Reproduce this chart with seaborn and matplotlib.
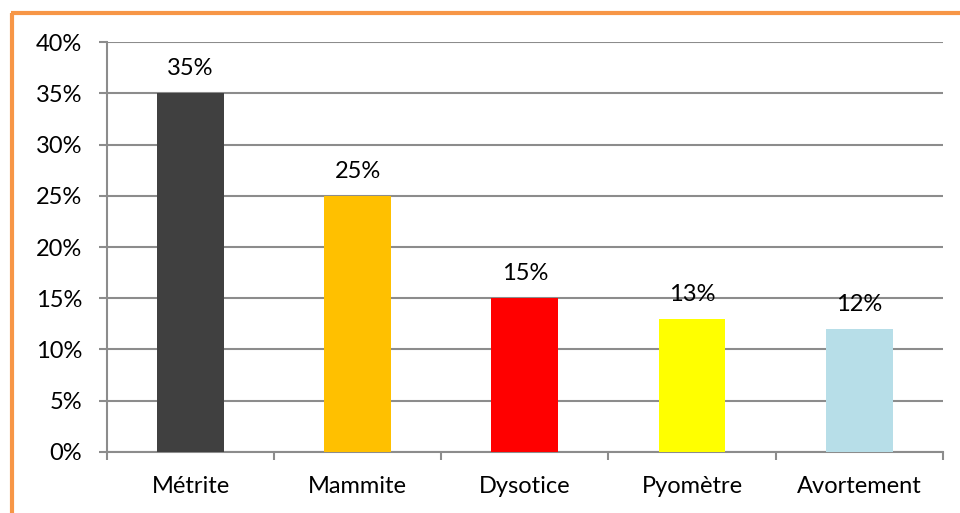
import matplotlib
matplotlib.use("Agg")
import matplotlib.pyplot as plt
from matplotlib.lines import Line2D
from matplotlib.ticker import FixedLocator, NullFormatter
import seaborn as sns
import pandas as pd

categories = ["Métrite", "Mammite", "Dysotice", "Pyomètre", "Avortement"]
percentages = [35, 25, 15, 13, 12]
bar_colors = ["#404040", "#FFC000", "#FF0000", "#FFFF00", "#B7DEE8"]
y_ticks = [0, 5, 10, 15, 20, 25, 30, 35, 40]

df = pd.DataFrame({"Cause": categories, "Pourcentage": percentages})

sns.set_style("white")
plt.rcParams["font.family"] = ["Lato", "DejaVu Sans"]
plt.rcParams["text.color"] = "black"
plt.rcParams["xtick.color"] = "black"
plt.rcParams["ytick.color"] = "black"

fig = plt.figure(figsize=(9.6, 5.13), dpi=100)
ax = fig.add_axes([0.1115, 0.119, 0.8705, 0.799])

sns.barplot(data=df, x="Cause", y="Pourcentage", hue="Cause",
            palette=bar_colors, width=0.4, saturation=1, linewidth=0,
            legend=False, ax=ax, zorder=3)

grid_col = "#8C8C8C"
fs = 17
ax.set_ylim(0, 40)
ax.set_xlim(-0.5, len(categories) - 0.5)
ax.set_yticks(y_ticks)
ax.set_yticklabels([f"{v}%" for v in y_ticks], fontsize=fs)
ax.yaxis.grid(True, color=grid_col, linewidth=1.5, zorder=0)
ax.set_axisbelow(True)

# category labels centred, ticks on category boundaries
ax.set_xticks(range(len(categories)))
ax.set_xticklabels(categories, fontsize=fs)
ax.tick_params(axis="x", which="major", bottom=True, length=0, pad=17)
ax.xaxis.set_minor_locator(FixedLocator([i - 0.5 for i in range(len(categories) + 1)]))
ax.xaxis.set_minor_formatter(NullFormatter())
ax.tick_params(axis="x", which="minor", bottom=True, length=6, width=1.5, color=grid_col)
ax.tick_params(axis="y", left=True, length=6, width=1.5, color=grid_col, pad=12,
               labelcolor="black")

for side in ["top", "right"]:
    ax.spines[side].set_visible(False)
for side in ["left", "bottom"]:
    ax.spines[side].set_color(grid_col)
    ax.spines[side].set_linewidth(1.5)

ax.set_xlabel("")
ax.set_ylabel("")

for i, v in enumerate(percentages):
    ax.annotate(f"{v}%", (i, v), xytext=(0, 10), textcoords="offset points",
                ha="center", va="bottom", fontsize=fs, color="black")

# orange frame on the left and top edges
orange = "#F79646"
fig.add_artist(Line2D([0.0125, 0.0125], [0.0, 0.9747], transform=fig.transFigure,
                      color=orange, linewidth=3, solid_capstyle="butt"))
fig.add_artist(Line2D([0.011, 1.0], [0.9747, 0.9747], transform=fig.transFigure,
                      color=orange, linewidth=3, solid_capstyle="butt"))

fig.savefig("out.png", dpi=100)
